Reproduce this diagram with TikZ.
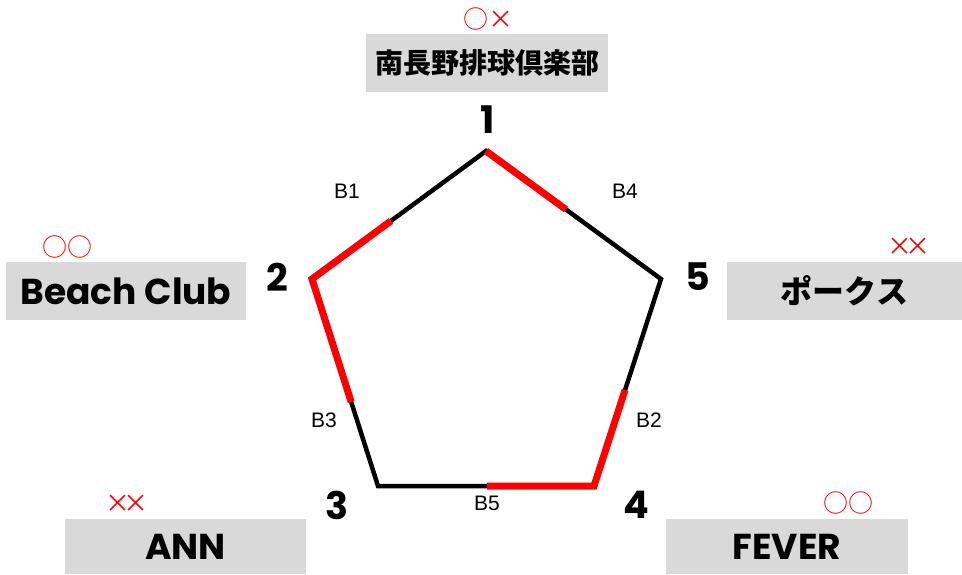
\documentclass[tikz,border=0pt]{standalone}
\usepackage{fontspec}
\setmainfont{Liberation Sans}
\newfontfamily\jp{Noto Sans CJK JP}
\newfontfamily\pop{Poppins}
\usetikzlibrary{calc}
\definecolor{boxgray}{HTML}{D9D9D9}
\begin{document}
\begin{tikzpicture}[x=1pt,y=-1pt,
  namebox/.style={fill=boxgray, inner sep=0pt, minimum height=58pt},
  jpname/.style={font=\jp\bfseries\fontsize{28}{28}\selectfont},
  lnname/.style={font=\pop\bfseries\fontsize{36}{36}\selectfont},
  blk/.style={line width=4.5pt, black, line join=miter},
  redseg/.style={line width=7pt, red, line join=miter},
  blab/.style={font=\fontsize{21}{21}\selectfont, inner sep=0pt},
  vnum/.style={font=\pop\bfseries\fontsize{38}{38}\selectfont, inner sep=0pt},
  resmark/.style={font=\jp\fontsize{25}{25}\selectfont, text=red, inner sep=0pt},
]
\useasboundingbox (0,0) rectangle (962,574);
% name boxes
\node[namebox, jpname, minimum width=242pt] (n1) at (487,63) {南長野排球倶楽部};
\node[namebox, lnname, minimum width=240pt] (n2) at (126,291) {Beach Club};
\node[namebox, font=\jp\bfseries\fontsize{32}{32}\selectfont, minimum width=235pt] (n5) at (844.5,291) {ポークス};
\node[namebox, lnname, minimum width=241pt, minimum height=55pt] (n3) at (185.5,546.5) {ANN};
\node[namebox, lnname, minimum width=242pt, minimum height=55pt] (n4) at (787,546.5) {FEVER};
% result marks
\node[resmark] (m1) at (488,19) {○×};
\node[resmark] (m2) at (67,247) {○○};
\node[resmark] (m5) at (909,247) {×\kern-7pt×};
\node[resmark] (m3) at (126.5,504) {×\kern-7pt×};
\node[resmark] (m4) at (848.5,503) {○○};
% vertices
\coordinate (v1) at (486,151);
\coordinate (v2) at (312,279);
\coordinate (v3) at (378,486);
\coordinate (v4) at (594,486);
\coordinate (v5) at (661,279);
% vertex numbers
\node[vnum] (d1) at (488,120) {1};
\node[vnum] (d2) at (277,277) {2};
\node[vnum] (d5) at (698,277) {5};
\node[vnum] (d3) at (337,505) {3};
\node[vnum] (d4) at (636,505) {4};
% pentagon
\draw[blk] (v1) -- (v2) -- (v3) -- (v4) -- (v5) -- cycle;
\draw[redseg] ($(v1)!0.546!(v2)$) -- (v2) -- ($(v2)!0.594!(v3)$);
\draw[redseg] ($(v3)!0.505!(v4)$) -- (v4) -- ($(v4)!0.464!(v5)$);
\draw[redseg] (v1) -- ($(v1)!0.457!(v5)$);
% edge labels
\node[blab] (b1) at (347,191) {B1};
\node[blab] (b4) at (625,191) {B4};
\node[blab] (b3) at (324,420) {B3};
\node[blab] (b2) at (649,420) {B2};
\node[blab] (b5) at (487,503) {B5};
\end{tikzpicture}
\end{document}
